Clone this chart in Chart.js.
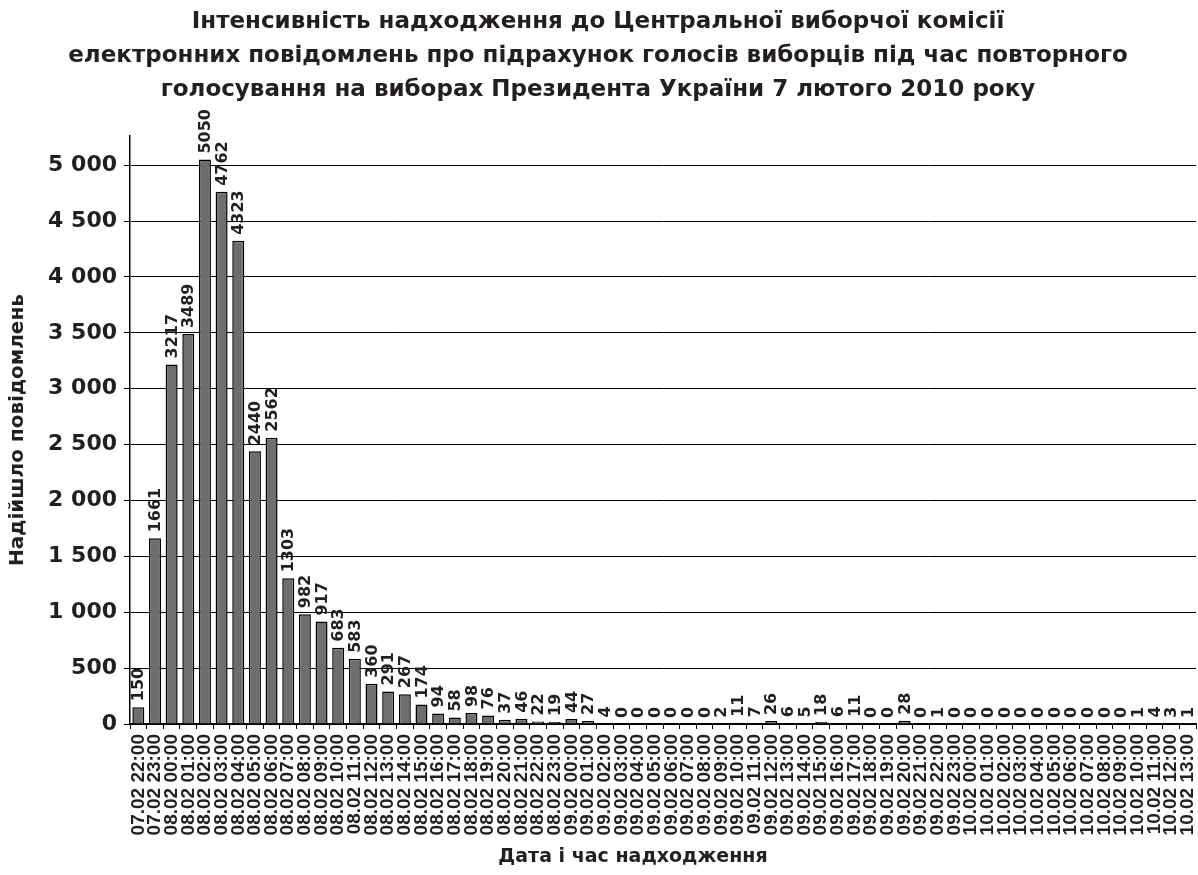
<!DOCTYPE html>
<html>
<head>
<meta charset="utf-8">
<script src="https://cdn.jsdelivr.net/npm/chart.js@4.4.1/dist/chart.umd.min.js"></script>
<style>
  html, body { margin: 0; padding: 0; background: #ffffff; }
  #wrap { width: 1198px; height: 875px; }
</style>
</head>
<body>
<div id="wrap"><canvas id="grafico"></canvas></div>
<script>
// Дані з графіка
const dates = [
   '07.02 22:00', '07.02 23:00',
   '08.02 00:00', '08.02 01:00', '08.02 02:00', '08.02 03:00', '08.02 04:00', '08.02 05:00',
   '08.02 06:00', '08.02 07:00', '08.02 08:00', '08.02 09:00', '08.02 10:00', '08.02 11:00',
   '08.02 12:00', '08.02 13:00', '08.02 14:00', '08.02 15:00', '08.02 16:00', '08.02 17:00',
   '08.02 18:00', '08.02 19:00', '08.02 20:00', '08.02 21:00', '08.02 22:00', '08.02 23:00',
   '09.02 00:00', '09.02 01:00', '09.02 02:00', '09.02 03:00', '09.02 04:00', '09.02 05:00',
   '09.02 06:00', '09.02 07:00', '09.02 08:00', '09.02 09:00', '09.02 10:00', '09.02 11:00',
   '09.02 12:00', '09.02 13:00', '09.02 14:00', '09.02 15:00', '09.02 16:00', '09.02 17:00',
   '09.02 18:00', '09.02 19:00', '09.02 20:00', '09.02 21:00', '09.02 22:00', '09.02 23:00',
   '10.02 00:00', '10.02 01:00', '10.02 02:00', '10.02 03:00', '10.02 04:00', '10.02 05:00',
   '10.02 06:00', '10.02 07:00', '10.02 08:00', '10.02 09:00', '10.02 10:00', '10.02 11:00',
   '10.02 12:00', '10.02 13:00'
];
const messages = [
   150, 1661,
   3217, 3489, 5050, 4762, 4323, 2440,
   2562, 1303, 982, 917, 683, 583,
   360, 291, 267, 174, 94, 58,
   98, 76, 37, 46, 22, 19,
   44, 27, 4, 0, 0, 0,
   0, 0, 0, 2, 11, 7,
   26, 6, 5, 18, 6, 11,
   0, 0, 28, 0, 1, 0,
   0, 0, 0, 0, 0, 0,
   0, 0, 0, 0, 1, 4,
   3, 1
];
const yTicks = [0, 500, 1000, 1500, 2000, 2500, 3000, 3500, 4000, 4500, 5000];
const titleLines = [
   'Інтенсивність надходження до Центральної виборчої комісії',
   'електронних повідомлень про підрахунок голосів виборців під час повторного',
   'голосування на виборах Президента України 7 лютого 2010 року'
];
const xTitle = 'Дата і час надходження';

const ink = '#231f20';
const wide = '"DejaVu Sans", sans-serif';
const narrow = '"Liberation Sans", Arial, sans-serif';

// Підписи значень над стовпчиками (вертикальні) + назва осі X
const barLabels = {
   id: 'barLabels',
   afterDatasetsDraw(chart) {
      const ctx = chart.ctx;
      const meta = chart.getDatasetMeta(0);
      ctx.save();
      ctx.fillStyle = ink;
      ctx.font = 'bold 16px ' + wide;
      ctx.textAlign = 'left';
      ctx.textBaseline = 'middle';
      meta.data.forEach((bar, i) => {
         ctx.save();
         ctx.translate(bar.x, bar.y - 6);
         ctx.rotate(-Math.PI / 2);
         ctx.fillText(String(messages[i]), 0, 1);
         ctx.restore();
      });
      // назва осі X трохи лівіше центру, як в оригіналі
      const area = chart.chartArea;
      ctx.font = 'bold 19px ' + wide;
      ctx.textAlign = 'center';
      ctx.fillText(xTitle, (area.left + area.right) / 2 - 30, 857);
      ctx.restore();
   }
};

const grafico = document.getElementById('grafico').getContext('2d');
const chart = new Chart(grafico, {
   type: 'bar',
   data: {
      labels: dates,
      datasets: [{
         label: 'Надійшло повідомлень',
         data: messages,
         backgroundColor: '#6d6e71',
         borderColor: '#000000',
         borderWidth: 1.5,
         categoryPercentage: 1,
         barPercentage: 0.72
      }]
   },
   options: {
      responsive: true,
      maintainAspectRatio: false,
      animation: false,
      layout: { padding: { left: 0, right: 2, top: 0, bottom: 0 } },
      plugins: {
         legend: { display: false },
         tooltip: { enabled: false },
         title: {
            display: true,
            text: titleLines,
            color: ink,
            font: { family: wide, size: 23, weight: 'bold', lineHeight: 1.48 },
            padding: { top: 5, bottom: 29 }
         }
      },
      scales: {
         x: {
            offset: true,
            afterFit: (scale) => {
               scale.height = 151;
               scale.paddingLeft = 0;
               scale.paddingRight = 0;
            },
            grid: {
               offset: true,
               drawOnChartArea: false,
               drawTicks: true,
               tickLength: 5,
               color: '#000000'
            },
            border: { color: '#000000', width: 1.5 },
            ticks: {
               color: ink,
               autoSkip: false,
               maxRotation: 90,
               minRotation: 90,
               padding: 5,
               font: { family: narrow, size: 19, weight: 'bold' }
            }
         },
         y: {
            min: 0,
            max: 5260,
            afterFit: (scale) => { scale.width = 130; },
            afterBuildTicks: (axis) => {
               axis.ticks = yTicks.map(v => ({ value: v }));
            },
            grid: {
               color: '#000000',
               lineWidth: 1,
               tickLength: 6
            },
            border: { color: '#000000', width: 1.5 },
            ticks: {
               color: ink,
               padding: 7,
               font: { family: wide, size: 22, weight: 'bold' },
               callback: (value) => String(value).replace(/\B(?=(\d{3})+(?!\d))/g, ' ')
            },
            title: {
               display: true,
               text: 'Надійшло повідомлень',
               color: ink,
               font: { family: wide, size: 20, weight: 'bold' },
               padding: { top: 6, bottom: 0 }
            }
         }
      }
   },
   plugins: [barLabels]
});
</script>
</body>
</html>
